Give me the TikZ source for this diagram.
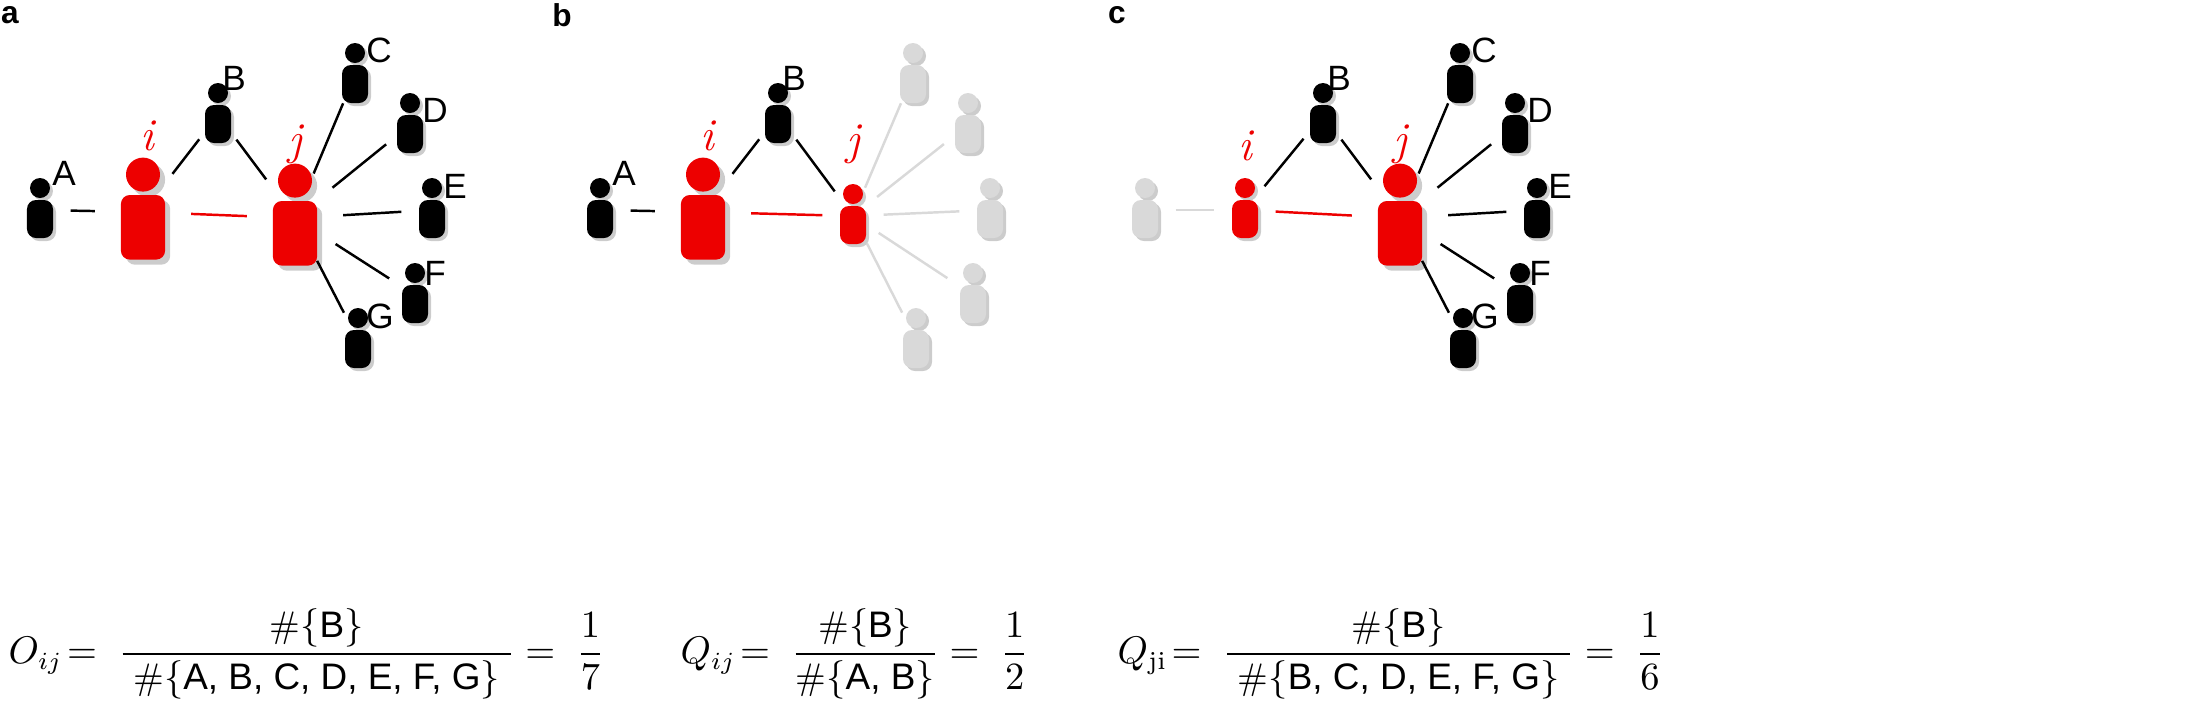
\documentclass[tikz,border=0pt]{standalone}
\usepackage{amsmath}
\usepackage{fontspec}
\setsansfont{Liberation Sans}
\usepackage{tikz}
\usetikzlibrary{positioning}
\definecolor{egored}{rgb}{0.93, 0.0, 0.0}
\definecolor{fadegray}{rgb}{0.85, 0.85, 0.85}
\definecolor{shadowgray}{rgb}{0.80, 0.80, 0.80}
\tikzset{
  person/.pic={
    \fill[shadowgray] (0.03,0.19) circle (0.1);
    \fill[shadowgray, rounded corners=0.09cm] (-0.10,-0.31) rectangle (0.16,0.07);
    \fill[pic actions] (0,0.22) circle (0.1);
    \fill[pic actions, rounded corners=0.09cm] (-0.13,-0.28) rectangle (0.13,0.1);
  },
  small/.style={circle, minimum size=0.6cm, inner sep=0pt},
  large/.style={circle, minimum size=0.95cm, inner sep=0pt},
  lbl/.style={font=\sffamily\fontsize{10}{12}\selectfont, inner sep=0pt},
  who/.style={font=\fontsize{13}{14}\selectfont\itshape, text=egored, inner sep=0pt},
  tie/.style={line width=0.7pt},
  panel/.style={font=\sffamily\bfseries\fontsize{9}{11}\selectfont, inner sep=0pt},
  formula/.style={font=\fontsize{10.5}{13}\selectfont, inner sep=0pt}
}
\newcommand{\setnm}[1]{\text{\sffamily #1}}
\begin{document}
\begin{tikzpicture}
\useasboundingbox (0,0) rectangle (22.06,7.06);
% panel a
\node[panel] (la) at (0.1,6.91) {a};
\path (0.40,4.96) pic[black] {person} node[small] (aA) {};
\path (1.43,4.94) pic[egored, scale=1.7] {person} node[large] (ai) {};
\path (2.18,5.91) pic[black] {person} node[small] (aB) {};
\path (2.95,4.88) pic[egored, scale=1.7] {person} node[large] (aj) {};
\path (3.55,6.31) pic[black] {person} node[small] (aC) {};
\path (4.10,5.81) pic[black] {person} node[small] (aD) {};
\path (4.32,4.96) pic[black] {person} node[small] (aE) {};
\path (4.15,4.11) pic[black] {person} node[small] (aF) {};
\path (3.58,3.66) pic[black] {person} node[small] (aG) {};
\node[lbl] at (0.64,5.33) {A};
\node[lbl] at (2.34,6.28) {B};
\node[lbl] at (3.79,6.56) {C};
\node[lbl] at (4.35,5.96) {D};
\node[lbl] at (4.55,5.20) {E};
\node[lbl] at (4.35,4.33) {F};
\node[lbl] at (3.80,3.90) {G};
\node[who] at (1.47,5.70) {i};
\node[who] at (2.95,5.62) {j};
\draw[tie] (aA) -- (ai);
\draw[tie, egored] (ai) -- (aj);
\draw[tie] (ai) -- (aB);
\draw[tie] (aB) -- (aj);
\foreach \n in {C,D,E,F,G} \draw[tie] (aj) -- (a\n);
\node[formula, anchor=west] (fa) at (0.08,0.52)
  {$O_{ij}\!=\;\dfrac{\#\{\setnm{B}\}}{\;\#\{\setnm{A, B, C, D, E, F, G}\}\;}=\;\dfrac{1}{7}$};
% panel b
\node[panel] (lb) at (5.62,6.91) {b};
\path (6.00,4.96) pic[black] {person} node[small] (bA) {};
\path (7.03,4.94) pic[egored, scale=1.7] {person} node[large] (bi) {};
\path (7.78,5.91) pic[black] {person} node[small] (bB) {};
\path (8.53,4.90) pic[egored] {person} node[small] (bj) {};
\path (9.13,6.31) pic[fadegray] {person} node[small] (bC) {};
\path (9.68,5.81) pic[fadegray] {person} node[small] (bD) {};
\path (9.90,4.96) pic[fadegray] {person} node[small] (bE) {};
\path (9.73,4.11) pic[fadegray] {person} node[small] (bF) {};
\path (9.16,3.66) pic[fadegray] {person} node[small] (bG) {};
\node[lbl] at (6.24,5.33) {A};
\node[lbl] at (7.94,6.28) {B};
\node[who] at (7.07,5.70) {i};
\node[who] at (8.53,5.62) {j};
\draw[tie] (bA) -- (bi);
\draw[tie, egored] (bi) -- (bj);
\draw[tie] (bi) -- (bB);
\draw[tie] (bB) -- (bj);
\foreach \n in {C,D,E,F,G} \draw[tie, fadegray] (bj) -- (b\n);
\node[formula, anchor=west] (fb) at (6.80,0.52)
  {$Q_{ij}\!=\;\dfrac{\#\{\setnm{B}\}}{\#\{\setnm{A, B}\}}=\;\dfrac{1}{2}$};
% panel c
\node[panel] (lc) at (11.17,6.91) {c};
\path (11.45,4.96) pic[fadegray] {person} node[small] (cA) {};
\path (12.45,4.96) pic[egored] {person} node[small] (ci) {};
\path (13.23,5.91) pic[black] {person} node[small] (cB) {};
\path (14.00,4.88) pic[egored, scale=1.7] {person} node[large] (cj) {};
\path (14.60,6.31) pic[black] {person} node[small] (cC) {};
\path (15.15,5.81) pic[black] {person} node[small] (cD) {};
\path (15.37,4.96) pic[black] {person} node[small] (cE) {};
\path (15.20,4.11) pic[black] {person} node[small] (cF) {};
\path (14.63,3.66) pic[black] {person} node[small] (cG) {};
\node[lbl] at (13.39,6.28) {B};
\node[lbl] at (14.84,6.56) {C};
\node[lbl] at (15.40,5.96) {D};
\node[lbl] at (15.60,5.20) {E};
\node[lbl] at (15.40,4.33) {F};
\node[lbl] at (14.85,3.90) {G};
\node[who] at (12.45,5.60) {i};
\node[who] at (14.00,5.62) {j};
\draw[tie, fadegray] (cA) -- (ci);
\draw[tie, egored] (ci) -- (cj);
\draw[tie] (ci) -- (cB);
\draw[tie] (cB) -- (cj);
\foreach \n in {C,D,E,F,G} \draw[tie] (cj) -- (c\n);
\node[formula, anchor=west] (fc) at (11.17,0.52)
  {$Q_{\mathrm{ji}}\!=\;\dfrac{\#\{\setnm{B}\}}{\;\#\{\setnm{B, C, D, E, F, G}\}\;}=\;\dfrac{1}{6}$};
\end{tikzpicture}
\end{document}
